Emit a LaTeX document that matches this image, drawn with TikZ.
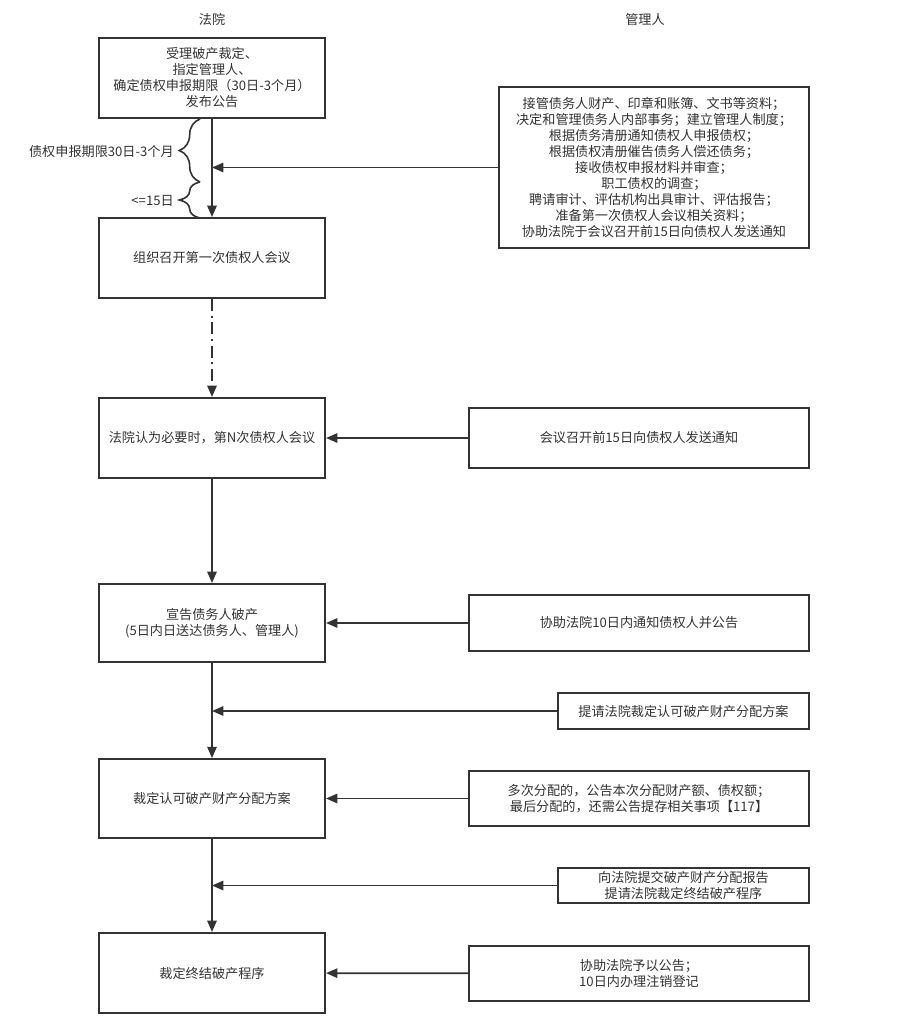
\documentclass[tikz,border=0pt]{standalone}
\usepackage{fontspec}
\setmainfont{Noto Sans CJK SC}
\usetikzlibrary{arrows.meta,decorations.pathreplacing}
\definecolor{ln}{HTML}{333333}
\begin{document}
\begin{tikzpicture}[x=0.75pt,y=-0.75pt,
  every node/.style={font=\fontsize{9.85pt}{12pt}\selectfont,text=ln,align=center,inner sep=0pt},
  box/.style={draw=ln,line width=1.5pt,minimum width=#1},
  arr/.style={draw=ln,line width=1.35pt,-{Triangle[length=8.5pt,width=7pt]}},
  brc/.style={draw=ln,line width=1.2pt,decorate,decoration={brace,amplitude=15.5pt}}]
\useasboundingbox[fill=white] (0,0) rectangle (902,1028);
% headers
\node (h1) at (212,19) {法院};
\node (h2) at (645,19) {管理人};
% left column
\node[box=169.5pt,minimum height=60pt] (b1) at (212,78) {受理破产裁定、\\指定管理人、\\确定债权申报期限（30日-3个月）\\发布公告};
\node[box=169.5pt,minimum height=60pt] (b2) at (212,258) {组织召开第一次债权人会议};
\node[box=169.5pt,minimum height=60pt] (b3) at (212,438) {法院认为必要时，第N次债权人会议};
\node[box=169.5pt,minimum height=58.5pt] (b4) at (212,623) {宣告债务人破产\\(5日内日送达债务人、管理人)};
\node[box=169.5pt,minimum height=59pt] (b5) at (212,798.5) {裁定认可破产财产分配方案};
\node[box=169.5pt,minimum height=60pt] (b6) at (212,973) {裁定终结破产程序};
% right column
\node[box=232.5pt,minimum height=120.5pt] (r1) at (654,167.5) {接管债务人财产、印章和账簿、文书等资料；\\决定和管理债务人内部事务；建立管理人制度；\\根据债务清册通知债权人申报债权；\\根据债权清册催告债务人偿还债务；\\接收债权申报材料并审查；\\职工债权的调查；\\聘请审计、评估机构出具审计、评估报告；\\准备第一次债权人会议相关资料；\\协助法院于会议召开前15日向债权人发送通知};
\node[box=255pt,minimum height=45pt] (r3) at (639,438) {会议召开前15日向债权人发送通知};
\node[box=255pt,minimum height=42pt] (r4) at (639,623) {协助法院10日内通知债权人并公告};
\node[box=188pt,minimum height=27pt] (s1) at (683.5,711) {提请法院裁定认可破产财产分配方案};
\node[box=255pt,minimum height=41.5pt] (r5) at (639,798.5) {多次分配的，公告本次分配财产额、债权额；\\最后分配的，还需公告提存相关事项【117】};
\node[box=188pt,minimum height=26.5pt] (s2) at (683.5,885.5) {向法院提交破产财产分配报告\\提请法院裁定终结破产程序};
\node[box=255pt,minimum height=41.5pt] (r6) at (639,973.5) {协助法院予以公告；\\10日内办理注销登记};
% vertical flow
\draw[arr] (b1) -- (b2);
\draw[arr,dash pattern=on 9pt off 3.5pt on 1.5pt off 3.5pt] (b2) -- (b3);
\draw[arr] (b3) -- (b4);
\draw[arr] (b4) -- (b5);
\draw[arr] (b5) -- (b6);
% horizontal arrows
\draw[arr] (r1.west) -- (r1.west -| b1.south);
\draw[arr] (r3) -- (b3);
\draw[arr] (r4) -- (b4);
\draw[arr] (s1.west) -- (s1.west -| b4.south);
\draw[arr] (r5) -- (b5);
\draw[arr] (s2.west) -- (s2.west -| b5.south);
\draw[arr] (r6) -- (b6);
% braces
\coordinate (c1) at (200,182);
\coordinate (c0) at (200,119);
\coordinate (c2) at (200,218);
\draw[brc] (c1) -- (c0);
\draw[brc] (c2) -- (c1);
\node[anchor=east] (t1) at (174,152) {债权申报期限30日-3个月};
\node[anchor=east] (t2) at (174,201) {<=15日};
\end{tikzpicture}
\end{document}
